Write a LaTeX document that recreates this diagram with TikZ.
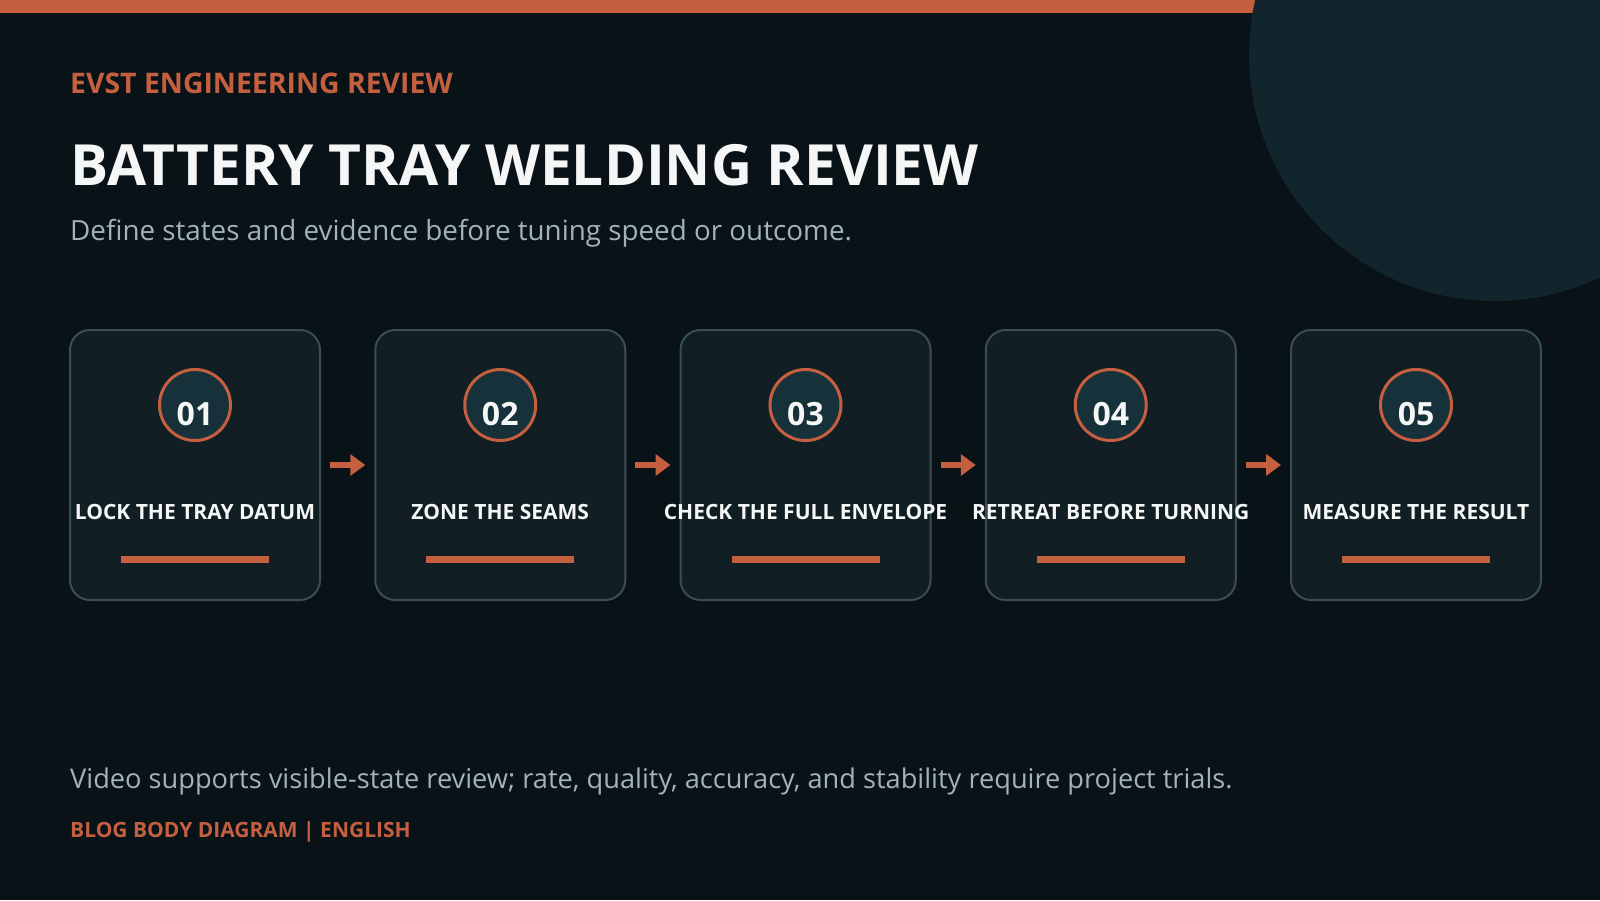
\documentclass[tikz,border=0pt]{standalone}
\usepackage{fontspec}
\setmainfont{Open Sans}
\usetikzlibrary{arrows.meta}
\definecolor{bgc}{HTML}{081217}
\definecolor{accent}{HTML}{C4603F}
\definecolor{cardfill}{HTML}{111E23}
\definecolor{cardline}{HTML}{3A4E56}
\definecolor{badgefill}{HTML}{17313A}
\definecolor{bigcirc}{HTML}{12252C}
\definecolor{titlec}{HTML}{F5F7F7}
\definecolor{subc}{HTML}{A3B3BA}
\tikzset{
  card/.style={draw=cardline, line width=2pt, fill=cardfill, rounded corners=20pt,
    minimum width=250pt, minimum height=270pt, inner sep=0pt},
  badge/.style={circle, draw=accent, line width=3pt, fill=badgefill, minimum size=71pt, inner sep=0pt},
  numtxt/.style={anchor=base, text=titlec, font=\bfseries\fontsize{32}{38}\selectfont, inner sep=0pt},
  lbl/.style={anchor=base, text=titlec, font=\bfseries\fontsize{21}{25}\selectfont, inner sep=0pt},
  accentbar/.style={fill=accent},
  flow/.style={draw=accent, line width=6pt, -{Triangle[length=15pt,width=21pt]}, shorten >=9pt, shorten <=9pt},
  txt/.style={anchor=base west, inner sep=0pt}
}
\begin{document}
\begin{tikzpicture}[x=1pt,y=-1pt]
\useasboundingbox (0,0) rectangle (1600,900);
\fill[bgc] (0,0) rectangle (1600,900);
\fill[accent] (0,0) rectangle (1600,13);
\fill[bigcirc] (1495,55) circle[radius=246];
\node[txt, text=accent, font=\bfseries\fontsize{28.4}{34}\selectfont] (kicker) at (70,93) {EVST ENGINEERING REVIEW};
\node[txt, text=titlec, font=\bfseries\fontsize{56.8}{66}\selectfont] (title) at (70,185) {BATTERY TRAY WELDING REVIEW};
\node[txt, text=subc, font=\fontsize{27.8}{34}\selectfont] (sub) at (70,240.5) {Define states and evidence before tuning speed or outcome.};
\foreach \i/\n/\t in {1/01/LOCK THE TRAY DATUM, 2/02/ZONE THE SEAMS, 3/03/CHECK THE FULL ENVELOPE, 4/04/RETREAT BEFORE TURNING, 5/05/MEASURE THE RESULT}{
  \pgfmathsetmacro{\cx}{195+305.25*(\i-1)}
  \node[card] (b\i) at (\cx,465) {};
  \node[badge] (c\i) at (\cx,405) {};
  \node[numtxt] (n\i) at (\cx,425) {\n};
  \node[lbl] (l\i) at (\cx,519) {\t};
  \fill[accentbar] (\cx-74,556) rectangle (\cx+74,563);
}
\foreach \i/\j in {1/2,2/3,3/4,4/5}{
  \draw[flow] (b\i.east) -- (b\j.west);
}
\node[txt, text=subc, font=\fontsize{27.2}{33}\selectfont] (foot) at (70,788) {Video supports visible-state review; rate, quality, accuracy, and stability require project trials.};
\node[txt, text=accent, font=\bfseries\fontsize{21}{25}\selectfont] (tag) at (70,837) {BLOG BODY DIAGRAM | ENGLISH};
\end{tikzpicture}
\end{document}
